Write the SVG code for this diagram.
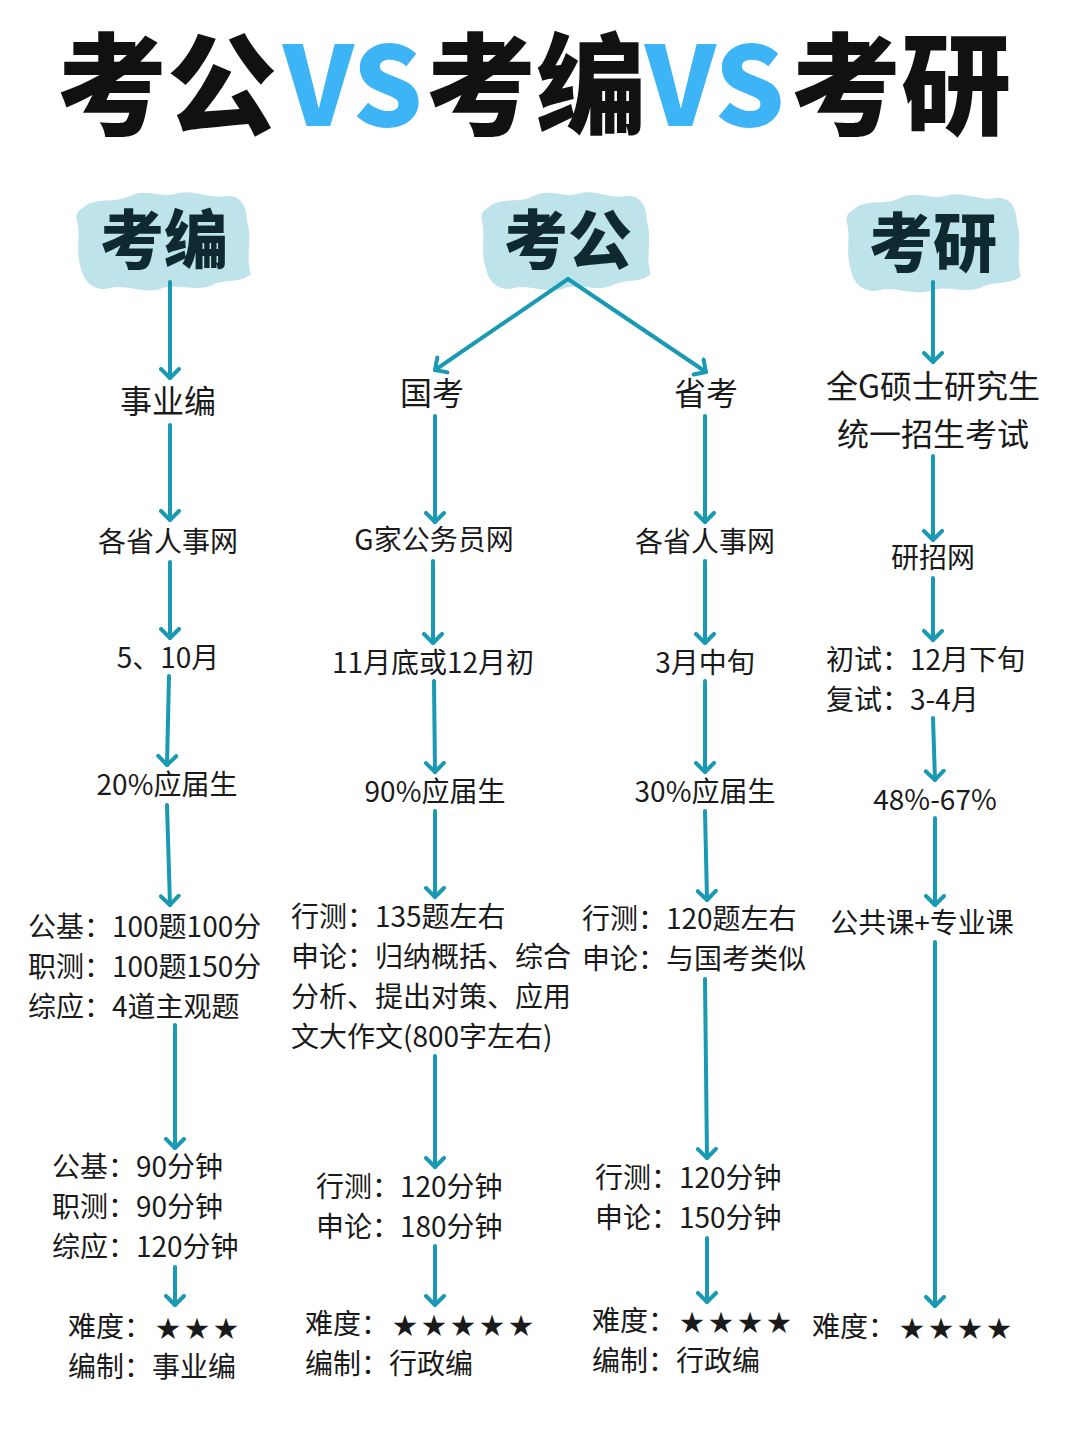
<svg xmlns="http://www.w3.org/2000/svg" width="1080" height="1443" viewBox="0 0 1080 1443">
<defs>
<style>
.t{font-family:"Noto Sans CJK SC","Noto Sans",sans-serif;fill:#1a1a1a;font-size:28px}
.m{text-anchor:middle}
.b{font-size:32px}
.s{font-size:24px;letter-spacing:5px}
.hd{font-family:"Noto Sans CJK SC",sans-serif;font-weight:900;font-size:64px;fill:#0e2a30;text-anchor:middle}
.blob{fill:#bfe3ea}
.c line,.c path{stroke:#1a9ab2;stroke-width:4;fill:none;stroke-linecap:round;marker-end:url(#ah)}
</style>
<marker id="ah" viewBox="0 0 14 22" refX="11" refY="11" markerWidth="14" markerHeight="22" markerUnits="userSpaceOnUse" orient="auto">
<path d="M2,2 L11,11 L2,20" fill="none" stroke="#1a9ab2" stroke-width="4" stroke-linecap="round" stroke-linejoin="round"/>
</marker>
<path id="bl" d="M8 22 C20 10,40 18,55 10 C70 2,85 12,100 8 C118 2,135 14,150 10 C165 8,172 20,172 35 C178 55,170 70,176 88 C165 98,150 92,135 100 C118 106,100 96,85 103 C68 108,50 98,35 102 C20 106,8 96,6 82 C0 65,6 50,2 35 C0 28,4 24,8 22 Z"/>
</defs>
<rect width="1080" height="1443" fill="#ffffff"/>
<g id="title">
<text y="126" style="font-family:'Noto Sans CJK SC',sans-serif;font-weight:900;font-size:110px;fill:#111"><tspan x="57">考公</tspan><tspan x="283" fill="#3db4f6">VS</tspan><tspan x="426">考编</tspan><tspan x="645" fill="#3db4f6">VS</tspan><tspan x="791">考研</tspan></text>
</g>
<g id="h-kaobian"><use href="#bl" class="blob" transform="translate(75,186)"/><text class="hd" x="164" y="263">考编</text></g>
<g id="h-kaogong"><use href="#bl" class="blob" transform="translate(480,186) scale(0.97,1)"/><text class="hd" x="568" y="263">考公</text></g>
<g id="h-kaoyan"><use href="#bl" class="blob" transform="translate(845,188)"/><text class="hd" x="933" y="266">考研</text></g>

<g class="c" id="connectors">
<line x1="170" y1="282" x2="170" y2="378"/>
<line x1="170" y1="425" x2="170" y2="520"/>
<line x1="170" y1="562" x2="170" y2="638"/>
<line x1="169" y1="676" x2="167" y2="765"/>
<line x1="167" y1="805" x2="170" y2="905"/>
<line x1="175" y1="1025" x2="175" y2="1148"/>
<line x1="175" y1="1267" x2="175" y2="1305"/>
<line x1="568" y1="279" x2="435" y2="370"/>
<line x1="568" y1="279" x2="706" y2="372"/>
<line x1="435" y1="416" x2="435" y2="522"/>
<line x1="433" y1="561" x2="433" y2="643"/>
<line x1="434" y1="681" x2="435" y2="772"/>
<line x1="435" y1="811" x2="435" y2="897"/>
<line x1="435" y1="1056" x2="435" y2="1167"/>
<line x1="435" y1="1246" x2="435" y2="1305"/>
<line x1="705" y1="416" x2="705" y2="522"/>
<line x1="705" y1="561" x2="705" y2="643"/>
<line x1="705" y1="681" x2="705" y2="772"/>
<line x1="705" y1="811" x2="707" y2="900"/>
<line x1="705" y1="979" x2="707" y2="1158"/>
<line x1="707" y1="1238" x2="707" y2="1302"/>
<line x1="933" y1="282" x2="933" y2="362"/>
<line x1="933" y1="456" x2="933" y2="540"/>
<line x1="933" y1="578" x2="933" y2="640"/>
<line x1="933" y1="718" x2="935" y2="780"/>
<line x1="935" y1="818" x2="935" y2="905"/>
<line x1="935" y1="942" x2="935" y2="1306"/>
</g>

<g id="col-kaobian">
<g id="n-shiyebian"><text class="t m b" x="168" y="413">事业编</text></g>
<g id="n-kb-site"><text class="t m" x="168" y="552">各省人事网</text></g>
<g id="n-kb-time"><text class="t m" x="168" y="668">5、10月</text></g>
<g id="n-kb-rate"><text class="t m" x="167" y="795">20%应届生</text></g>
<g id="n-kb-content"><text class="t" x="28" y="937">公基：100题100分</text><text class="t" x="28" y="977">职测：100题150分</text><text class="t" x="28" y="1017">综应：4道主观题</text></g>
<g id="n-kb-dur"><text class="t" x="52" y="1177">公基：90分钟</text><text class="t" x="52" y="1217">职测：90分钟</text><text class="t" x="52" y="1257">综应：120分钟</text></g>
<g id="n-kb-diff"><text class="t" x="68" y="1337">难度：<tspan class="s" dx="4">★★★</tspan></text><text class="t" x="68" y="1377">编制：事业编</text></g>
</g>

<g id="col-guokao">
<g id="n-guokao"><text class="t m b" x="432" y="405">国考</text></g>
<g id="n-gk-site"><text class="t m" x="434" y="550">G家公务员网</text></g>
<g id="n-gk-time"><text class="t m" x="433" y="673">11月底或12月初</text></g>
<g id="n-gk-rate"><text class="t m" x="435" y="802">90%应届生</text></g>
<g id="n-gk-content"><text class="t" x="291" y="927">行测：135题左右</text><text class="t" x="291" y="967">申论：归纳概括、综合</text><text class="t" x="291" y="1007">分析、提出对策、应用</text><text class="t" x="291" y="1047">文大作文(800字左右)</text></g>
<g id="n-gk-dur"><text class="t" x="316" y="1197">行测：120分钟</text><text class="t" x="316" y="1237">申论：180分钟</text></g>
<g id="n-gk-diff"><text class="t" x="305" y="1334">难度：<tspan class="s" dx="4">★★★★★</tspan></text><text class="t" x="305" y="1374">编制：行政编</text></g>
</g>

<g id="col-shengkao">
<g id="n-shengkao"><text class="t m b" x="706" y="405">省考</text></g>
<g id="n-sk-site"><text class="t m" x="705" y="552">各省人事网</text></g>
<g id="n-sk-time"><text class="t m" x="705" y="673">3月中旬</text></g>
<g id="n-sk-rate"><text class="t m" x="705" y="802">30%应届生</text></g>
<g id="n-sk-content"><text class="t" x="582" y="929">行测：120题左右</text><text class="t" x="582" y="969">申论：与国考类似</text></g>
<g id="n-sk-dur"><text class="t" x="595" y="1188">行测：120分钟</text><text class="t" x="595" y="1228">申论：150分钟</text></g>
<g id="n-sk-diff"><text class="t" x="592" y="1331">难度：<tspan class="s" dx="4">★★★★</tspan></text><text class="t" x="592" y="1371">编制：行政编</text></g>
</g>

<g id="col-kaoyan">
<g id="n-ky-exam"><text class="t m b" x="933" y="398">全G硕士研究生</text><text class="t m b" x="933" y="446">统一招生考试</text></g>
<g id="n-ky-site"><text class="t m" x="933" y="568">研招网</text></g>
<g id="n-ky-time"><text class="t" x="826" y="670">初试：12月下旬</text><text class="t" x="826" y="710">复试：3-4月</text></g>
<g id="n-ky-rate"><text class="t m" x="935" y="810">48%-67%</text></g>
<g id="n-ky-content"><text class="t m" x="922" y="933">公共课+专业课</text></g>
<g id="n-ky-diff"><text class="t" x="812" y="1337">难度：<tspan class="s" dx="4">★★★★</tspan></text></g>
</g>
</svg>
